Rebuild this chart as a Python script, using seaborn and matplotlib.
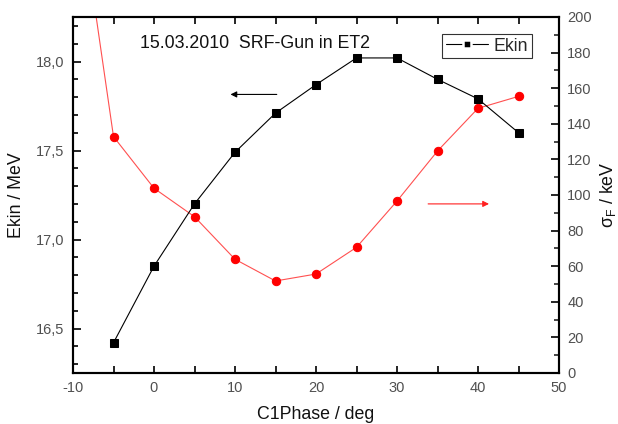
import matplotlib
matplotlib.use("Agg")
import matplotlib.pyplot as plt
import matplotlib.ticker as mticker
from matplotlib.lines import Line2D
import seaborn as sns
import pandas as pd

sns.set_theme(style="ticks")
plt.rcParams['font.family'] = ['Liberation Sans', 'DejaVu Sans']
plt.rcParams['axes.unicode_minus'] = False

phase = [-5, 0, 5, 10, 15, 20, 25, 30, 35, 40, 45]
ekin = [16.42, 16.85, 17.20, 17.49, 17.71, 17.87, 18.02, 18.02, 17.90, 17.79, 17.60]
phase_sigma = [-10, -5, 0, 5, 10, 15, 20, 25, 30, 35, 40, 45]
sigma = [290, 132.8, 103.8, 87.8, 63.9, 51.7, 55.6, 70.6, 96.6, 124.7, 148.7, 155.4]

df_e = pd.DataFrame({"phase": phase, "Ekin": ekin})
df_s = pd.DataFrame({"phase": phase_sigma, "sigma": sigma})

fig = plt.figure(figsize=(6.18, 4.24), dpi=100)
ax = fig.add_axes([73/618, 51/424, 486/618, 356/424])
ax2 = ax.twinx()

sns.lineplot(data=df_s, x="phase", y="sigma", ax=ax2, color="#ff0000", lw=0.8,
             marker="o", markersize=6, markeredgecolor="#ff0000", legend=False)
ax2.lines[0].set_color("#ff5050")
ax2.lines[0].set_markerfacecolor("#ff0000")
ax2.lines[0].set_markeredgecolor("#ff0000")

sns.lineplot(data=df_e, x="phase", y="Ekin", ax=ax, color="black", lw=0.8,
             marker="s", markersize=5.5, markeredgecolor="black", legend=False)
ax.set_zorder(ax2.get_zorder() + 1)
ax.patch.set_visible(False)

ax.set_xlim(-10, 50)
ax.set_ylim(16.25, 18.25)
ax2.set_ylim(0, 200)

ax.xaxis.set_major_locator(mticker.MultipleLocator(10))
ax.xaxis.set_minor_locator(mticker.MultipleLocator(5))
ax.yaxis.set_major_locator(mticker.MultipleLocator(0.5))
ax.yaxis.set_minor_locator(mticker.MultipleLocator(0.1))
ax.yaxis.set_major_formatter(mticker.FuncFormatter(lambda v, p: f"{v:.1f}".replace(".", ",")))
ax2.yaxis.set_major_locator(mticker.MultipleLocator(20))
ax2.yaxis.set_minor_locator(mticker.MultipleLocator(10))

tick_col = "#505050"
for a in (ax, ax2):
    for s in a.spines.values():
        s.set_visible(True)
        s.set_linewidth(1.5)
        s.set_color("black")
ax.tick_params(axis="both", which="major", direction="in", length=6, width=1.2,
               top=True, labelsize=10.5, labelcolor=tick_col, color="black", pad=6)
ax.tick_params(axis="both", which="minor", direction="in", length=3.5, width=1.2,
               top=True, color="black")
ax.tick_params(axis="x", which="major", length=5)
ax.tick_params(axis="x", which="minor", length=5)
ax2.tick_params(axis="y", which="major", direction="in", length=6, width=1.2,
                labelsize=10.5, labelcolor=tick_col, color="black", pad=6)
ax2.tick_params(axis="y", which="minor", direction="in", length=3.5, width=1.2)

ax.set_xlabel("C1Phase / deg", fontsize=12.8, labelpad=8, color="#111111")
ax.set_ylabel("Ekin / MeV", fontsize=12.8, labelpad=8, color="#111111")
ax2.set_ylabel(r"$\mathregular{\sigma_F}$ / keV", fontsize=12.8, labelpad=4, color="#111111")

ax.text(0.137, 0.925, "15.03.2010  SRF-Gun in ET2", transform=ax.transAxes,
        fontsize=12.8, color="#111111", va="center", ha="left")

# arrows
ax.annotate("", xy=(9.1, 17.815), xytext=(15.5, 17.815),
            arrowprops=dict(arrowstyle="-|>", color="black", lw=0.8, mutation_scale=9))
ax2.annotate("", xy=(41.7, 95), xytext=(33.5, 95),
             arrowprops=dict(arrowstyle="-|>", color="#ff2020", lw=0.8, mutation_scale=9))

handle = Line2D([], [], color="black", lw=0.8, marker="s", markersize=6,
                markerfacecolor="black", markeredgecolor="white", markeredgewidth=1.8)
leg = ax.legend([handle], ["Ekin"], loc="upper right", bbox_to_anchor=(0.944, 0.952),
                fontsize=12.8, frameon=True, fancybox=False, handlelength=2.4,
                handletextpad=0.3, borderpad=0.2, borderaxespad=0)
leg.get_frame().set_edgecolor("black")
leg.get_frame().set_linewidth(0.8)

fig.savefig("out.png", dpi=100)
